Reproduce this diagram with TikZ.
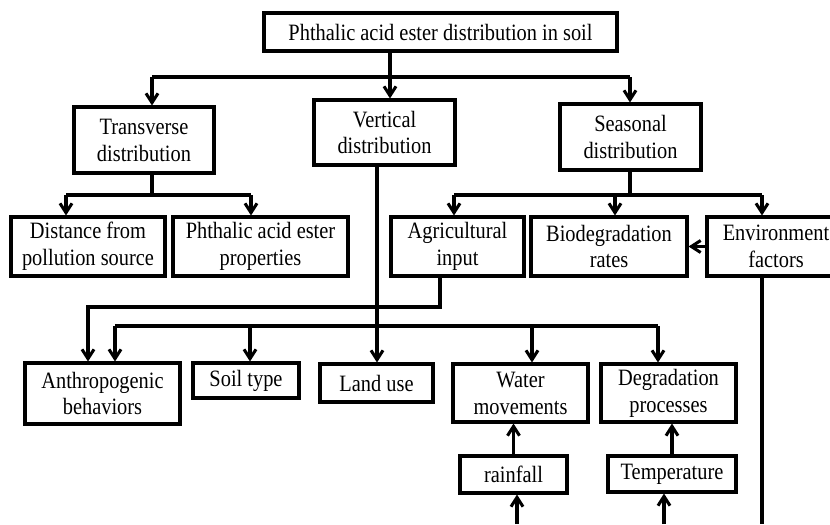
\documentclass[tikz,border=0pt]{standalone}
\usepackage{fontspec}
\setmainfont{Liberation Serif}[FakeStretch=0.87]
\usetikzlibrary{arrows.meta}
\tikzset{
  box/.style={draw, line width=2.6pt, align=center, inner sep=0pt, font=\fontsize{20}{23}\selectfont},
  boxsize/.style 2 args={minimum width=#1*0.03cm, minimum height=#2*0.03cm},
  link/.style={line width=2.6pt},
  flow/.style={link, -{Straight Barb[length=2.8mm,width=3.6mm]}}
}
\begin{document}
\begin{tikzpicture}[x=0.03cm, y=-0.03cm]
        \useasboundingbox (0,0) rectangle (830,524);
        \clip (0,0) rectangle (830,524);
        % boxes
        \node[box, boxsize={353}{38}] (top) at (440.5,32) {Phthalic acid ester distribution in soil};
        \node[box, boxsize={140}{66}] (trans) at (144,140) {Transverse\\distribution};
        \node[box, boxsize={141}{65}] (vert) at (384.5,132.5) {Vertical\\distribution};
        \node[box, boxsize={141}{66}] (seas) at (630.5,137) {Seasonal\\distribution};
        \node[box, boxsize={154}{59}] (dist) at (88,246.5) {Distance from\\pollution source};
        \node[box, boxsize={175}{59}] (props) at (260.5,246.5) {Phthalic acid ester\\properties};
        \node[box, boxsize={133}{59}] (agri) at (457.5,246.5) {Agricultural\\input};
        \node[box, boxsize={156}{59}] (biod) at (609,246.5) {Biodegradation\\rates};
        \node[box, boxsize={138}{59}] (envf) at (776,246.5) {Environment\\factors};
        \node[box, boxsize={155}{61}] (anthro) at (102.5,393.5) {Anthropogenic\\behaviors};
        \node[box, boxsize={106}{35}] (soilt) at (246,380.5) {Soil type};
        \node[box, boxsize={113}{38}] (landu) at (376.5,383) {Land use};
        \node[box, boxsize={135}{58}] (water) at (520.5,393) {Water\\movements};
        \node[box, boxsize={135}{58}] (degr) at (668.5,393) {Degradation\\processes};
        \node[box, boxsize={107}{37}] (rain) at (513.5,474.5) {rainfall};
        \node[box, boxsize={128}{36}] (temp) at (672,474) {Temperature};
        % junctions
        \coordinate (ja) at (390,77);
        \coordinate (jal) at (152,77);
        \coordinate (jar) at (630,77);
        \coordinate (jb) at (152,195);
        \coordinate (jbl) at (66,195);
        \coordinate (jbr) at (251,195);
        \coordinate (jc) at (630,195);
        \coordinate (jcl) at (454,195);
        \coordinate (jcm) at (615,195);
        \coordinate (jcr) at (762,195);
        \coordinate (jd) at (440,307);
        \coordinate (jdl) at (88,307);
        \coordinate (jv) at (377,326);
        \coordinate (jel) at (115,326);
        \coordinate (jes) at (250,326);
        \coordinate (jew) at (532,326);
        \coordinate (jer) at (658,326);
        \coordinate (rb) at (517,524);
        \coordinate (tb) at (664,524);
        \coordinate (eb) at (762,524);
        % first level
        \draw[link] (top.south -| ja) -- (ja);
        \draw[link] (jal) -- (jar);
        \draw[flow] (jal) -- (jal |- trans.north);
        \draw[flow] (ja) -- (ja |- vert.north);
        \draw[flow] (jar) -- (jar |- seas.north);
        % transverse
        \draw[link] (trans.south -| jb) -- (jb);
        \draw[link] (jbl) -- (jbr);
        \draw[flow] (jbl) -- (jbl |- dist.north);
        \draw[flow] (jbr) -- (jbr |- props.north);
        % seasonal
        \draw[link] (seas.south -| jc) -- (jc);
        \draw[link] (jcl) -- (jcr);
        \draw[flow] (jcl) -- (jcl |- agri.north);
        \draw[flow] (jcm) -- (jcm |- biod.north);
        \draw[flow] (jcr) -- (jcr |- envf.north);
        \draw[flow] (envf.west) -- (biod.east);
        % agricultural input
        \draw[flow] (agri.south -| jd) -- (jd) -- (jdl) -- (jdl |- anthro.north);
        % vertical
        \draw[flow] (vert.south -| jv) -- (jv |- landu.north);
        \draw[link] (jel) -- (jer);
        \draw[flow] (jel) -- (jel |- anthro.north);
        \draw[flow] (jes) -- (jes |- soilt.north);
        \draw[flow] (jew) -- (jew |- water.north);
        \draw[flow] (jer) -- (jer |- degr.north);
        % bottom
        \draw[flow] (rain.north) -- (rain.north |- water.south);
        \draw[flow] (temp.north) -- (temp.north |- degr.south);
        \draw[flow] (rb) -- (rb |- rain.south);
        \draw[flow] (tb) -- (tb |- temp.south);
        \draw[link] (envf.south -| eb) -- (eb);
      \end{tikzpicture}
\end{document}
